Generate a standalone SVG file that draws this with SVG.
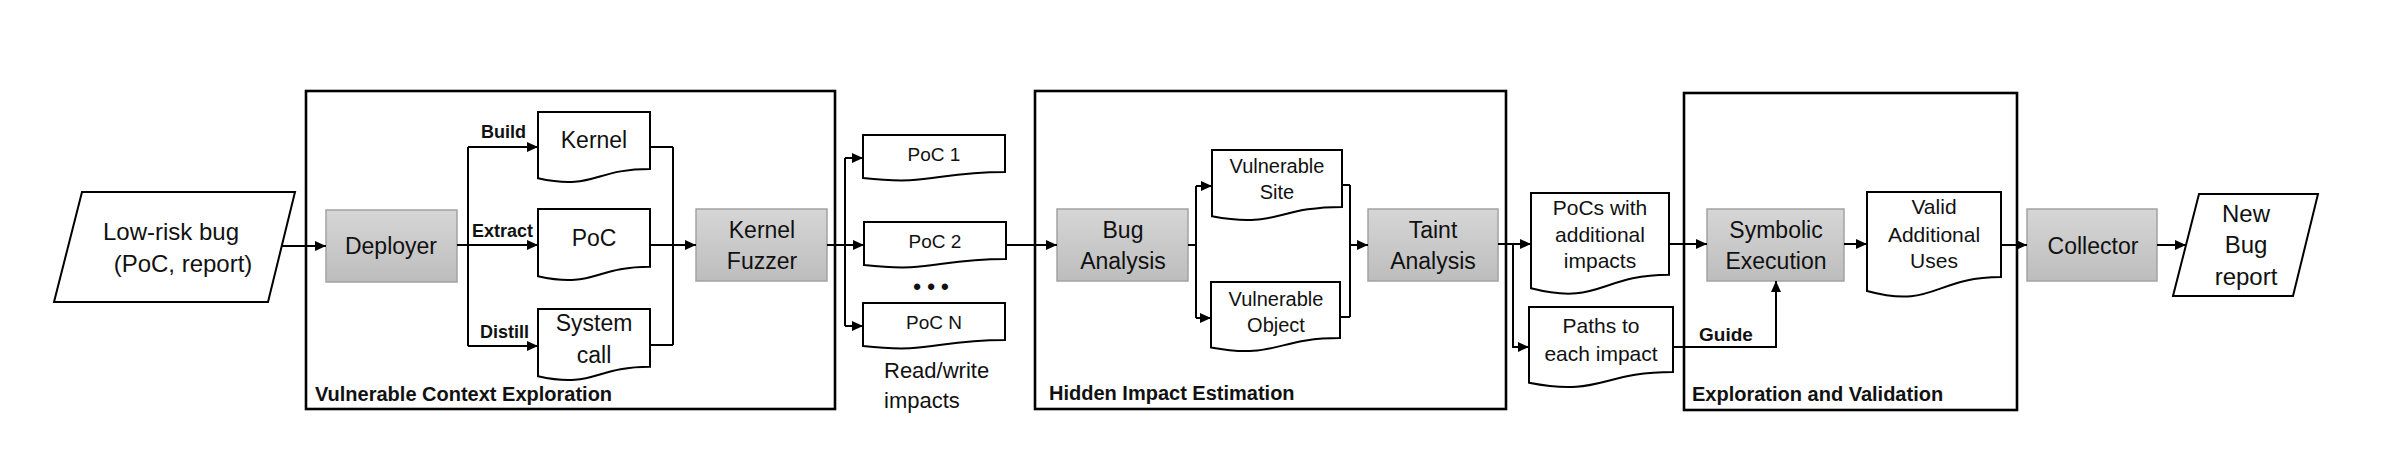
<svg xmlns="http://www.w3.org/2000/svg" width="2402" height="465" viewBox="0 0 2402 465">
<defs>
<linearGradient id="grey" x1="0" y1="0" x2="0" y2="1">
<stop offset="0" stop-color="#d6d6d6"/>
<stop offset="1" stop-color="#bdbdbd"/>
</linearGradient>
<marker id="arr" markerUnits="userSpaceOnUse" markerWidth="12" markerHeight="10" refX="11" refY="5" orient="auto">
<path d="M0,0 L11,5 L0,10 z" fill="#000"/>
</marker>
</defs>
<style>
text{font-family:"Liberation Sans",Arial,sans-serif;fill:#111;}
.t{font-size:23px;text-anchor:middle;}
.d{font-size:21px;text-anchor:middle;}
.s{font-size:19px;text-anchor:middle;}
.b{font-size:18px;font-weight:bold;}
.sec{font-size:20px;font-weight:bold;}
.proc{fill:url(#grey);stroke:#a3a3a3;stroke-width:1.5;}
.doc{fill:#fff;stroke:#000;stroke-width:2;}
.io{fill:#fff;stroke:#000;stroke-width:2;}
.frame{fill:none;stroke:#000;stroke-width:2.6;}
.c path{fill:none;stroke:#000;stroke-width:2;}
.c .a{marker-end:url(#arr);}
</style>
<rect width="2402" height="465" fill="#fff"/>

<g id="frames">
<rect class="frame" x="306" y="91" width="529" height="318"/>
<rect class="frame" x="1035" y="91" width="471" height="318"/>
<rect class="frame" x="1684" y="93" width="333" height="317"/>
<text class="sec" x="315" y="401">Vulnerable Context Exploration</text>
<text class="sec" x="1049" y="400">Hidden Impact Estimation</text>
<text class="sec" x="1692" y="401">Exploration and Validation</text>
</g>

<g id="low-risk-bug">
<polygon class="io" points="82,192 295,192 268,302 54,302"/>
<text x="171" y="240" style="font-size:24px;text-anchor:middle">Low-risk bug</text>
<text x="183" y="272" style="font-size:24px;text-anchor:middle">(PoC, report)</text>
</g>

<g id="deployer">
<rect class="proc" x="326" y="210" width="131" height="72"/>
<text class="t" x="391" y="254">Deployer</text>
</g>

<g id="kernel-doc">
<path class="doc" d="M538,112 H650 V168.9 C594,168.9 594,190.6 538,178.3 Z"/>
<text class="t" x="594" y="148">Kernel</text>
</g>
<g id="poc-doc">
<path class="doc" d="M538,209 H650 V266.7 C594,266.7 594,288.7 538,276.2 Z"/>
<text class="t" x="594" y="246">PoC</text>
</g>
<g id="syscall-doc">
<path class="doc" d="M538,309 H650 V366.7 C594,366.7 594,388.7 538,376.2 Z"/>
<text class="t" x="594" y="331">System</text>
<text class="t" x="594" y="363">call</text>
</g>

<g id="kernel-fuzzer">
<rect class="proc" x="696" y="209" width="131" height="72"/>
<text class="t" x="762" y="238">Kernel</text>
<text class="t" x="762" y="269">Fuzzer</text>
</g>

<g id="poc1">
<path class="doc" d="M863,135 H1005 V171.9 C934,171.9 934,185.9 863,178 Z"/>
<text class="s" x="934" y="161">PoC 1</text>
</g>
<g id="poc2">
<path class="doc" d="M864,222 H1006 V258.9 C935,258.9 935,272.9 864,265 Z"/>
<text class="s" x="935" y="248">PoC 2</text>
</g>
<g id="dots">
<text x="931" y="294" style="font-size:22px;text-anchor:middle;font-weight:bold">• • •</text>
</g>
<g id="pocn">
<path class="doc" d="M863,303 H1005 V339.9 C934,339.9 934,353.9 863,346 Z"/>
<text class="s" x="934" y="329">PoC N</text>
</g>
<g id="rw-label">
<text x="884" y="378" style="font-size:22px">Read/write</text>
<text x="884" y="408" style="font-size:22px">impacts</text>
</g>

<g id="bug-analysis">
<rect class="proc" x="1057" y="209" width="131" height="72"/>
<text class="t" x="1123" y="238">Bug</text>
<text class="t" x="1123" y="269">Analysis</text>
</g>
<g id="vuln-site">
<path class="doc" d="M1212,150 H1342 V206.9 C1277,206.9 1277,228.6 1212,216.3 Z"/>
<text x="1277" y="173" style="font-size:20px;text-anchor:middle">Vulnerable</text>
<text x="1277" y="199" style="font-size:20px;text-anchor:middle">Site</text>
</g>
<g id="vuln-object">
<path class="doc" d="M1211,282 H1340 V338.1 C1275.5,338.1 1275.5,359.5 1211,347.4 Z"/>
<text x="1276" y="306" style="font-size:20px;text-anchor:middle">Vulnerable</text>
<text x="1276" y="332" style="font-size:20px;text-anchor:middle">Object</text>
</g>
<g id="taint-analysis">
<rect class="proc" x="1368" y="209" width="130" height="72"/>
<text class="t" x="1433" y="238">Taint</text>
<text class="t" x="1433" y="269">Analysis</text>
</g>

<g id="pocs-impacts">
<path class="doc" d="M1531,193 H1669 V274.8 C1600,274.8 1600,305.9 1531,288.3 Z"/>
<text class="d" x="1600" y="215">PoCs with</text>
<text class="d" x="1600" y="242">additional</text>
<text class="d" x="1600" y="268">impacts</text>
</g>
<g id="paths">
<path class="doc" d="M1529,307 H1673 V372 C1601,372 1601,396.7 1529,382.7 Z"/>
<text class="d" x="1601" y="333">Paths to</text>
<text class="d" x="1601" y="361">each impact</text>
</g>
<g id="symbolic-execution">
<rect class="proc" x="1707" y="209" width="137" height="72"/>
<text class="t" x="1776" y="238">Symbolic</text>
<text class="t" x="1776" y="269">Execution</text>
</g>
<g id="valid-uses">
<path class="doc" d="M1867,192 H2001 V277 C1934,277 1934,309.3 1867,291 Z"/>
<text class="d" x="1934" y="214">Valid</text>
<text class="d" x="1934" y="242">Additional</text>
<text class="d" x="1934" y="268">Uses</text>
</g>
<g id="collector">
<rect class="proc" x="2027" y="209" width="130" height="72"/>
<text class="t" x="2093" y="254">Collector</text>
</g>
<g id="new-bug-report">
<polygon class="io" points="2199,194 2318,194 2293,296 2173,296"/>
<text x="2246" y="222" style="font-size:24px;text-anchor:middle">New</text>
<text x="2246" y="253" style="font-size:24px;text-anchor:middle">Bug</text>
<text x="2246" y="285" style="font-size:24px;text-anchor:middle">report</text>
</g>

<g id="connectors" class="c">
<path class="a" d="M282,246 H326"/>
<path d="M457,245 H468 M468,147 V346"/>
<path class="a" d="M468,147 H538"/>
<path class="a" d="M468,245 H538"/>
<path class="a" d="M468,346 H538"/>
<path d="M650,147 H673 M650,345 H673 M673,147 V345"/>
<path class="a" d="M650,245 H696"/>
<path d="M827,245 H845 M845,158 V326"/>
<path class="a" d="M845,158 H863"/>
<path class="a" d="M845,245 H864"/>
<path class="a" d="M845,326 H863"/>
<path class="a" d="M1006,245 H1057"/>
<path d="M1188,245 H1196 M1196,186 V318"/>
<path class="a" d="M1196,186 H1212"/>
<path class="a" d="M1196,318 H1211"/>
<path d="M1342,185 H1350 M1340,317 H1350 M1350,185 V317"/>
<path class="a" d="M1350,245 H1368"/>
<path class="a" d="M1498,244 H1531"/>
<path class="a" d="M1513,244 V347 H1529"/>
<path class="a" d="M1669,244 H1707"/>
<path class="a" d="M1673,347 H1776 V281"/>
<path class="a" d="M1844,244 H1867"/>
<path class="a" d="M2001,245 H2027"/>
<path class="a" d="M2157,245 H2186"/>
<text class="b" x="481" y="138">Build</text>
<text class="b" x="472" y="237">Extract</text>
<text class="b" x="480" y="338">Distill</text>
<text x="1699" y="341" style="font-size:19px;font-weight:bold">Guide</text>
</g>
</svg>
